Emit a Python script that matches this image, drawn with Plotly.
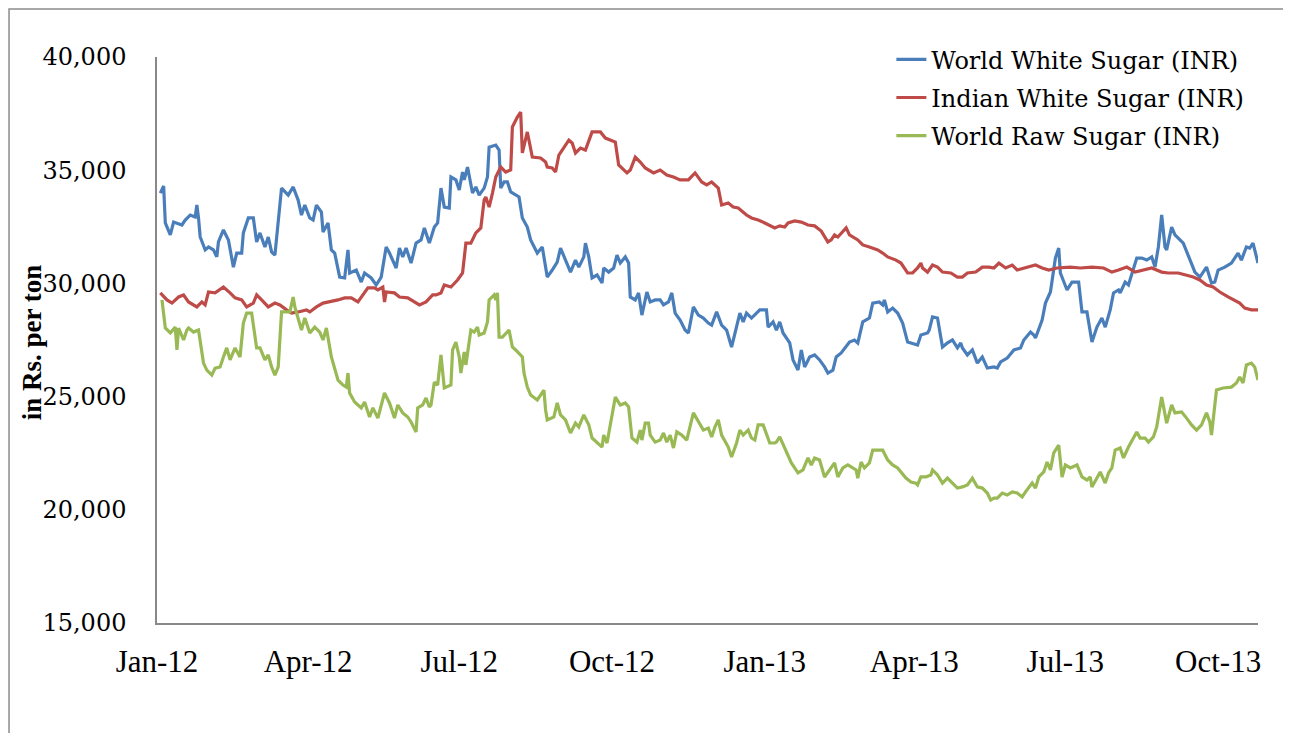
import pandas as pd
import plotly.graph_objects as go

# Days since 1 Jan 2012 and values (Rs. per ton)
white_day = [2, 4, 5, 8, 10, 15, 17, 20, 23, 24, 25, 26, 29, 31, 34, 36, 37, 40, 43, 46, 48, 51, 52, 55, 58, 60, 62, 65, 67, 69, 71,
             75, 79, 82, 85, 87, 89, 92, 94, 96, 99, 100, 103, 105, 107, 108, 110, 113, 115, 116, 120, 123, 125, 129, 132, 135, 138,
             140, 144, 146, 148, 150, 153, 156, 159, 161, 164, 167, 169, 171, 173, 176, 177, 180, 182, 184, 185, 187, 190, 192, 194,
             197, 199, 200, 204, 206, 207, 209, 211, 213, 218, 220, 223, 225, 229, 232, 234, 235, 238, 241, 243, 246, 249, 252, 254,
             257, 258, 260, 262, 265, 268, 269, 272, 275, 277, 279, 282, 284, 285, 288, 290, 292, 295, 297, 300, 303, 305, 308, 310,
             312, 315, 318, 320, 323, 326, 329, 332, 334, 337, 340, 343, 346, 349, 351, 353, 355, 358, 361, 363, 367, 368, 371, 373,
             375, 377, 381, 383, 386, 388, 390, 393, 396, 399, 402, 404, 407, 409, 412, 415, 417, 420, 422, 425, 429, 431, 435, 437,
             438, 440, 443, 446, 449, 452, 458, 460, 464, 465, 467, 470, 472, 473, 476, 479, 482, 484, 485, 488, 491, 494, 497, 500,
             504, 506, 508, 512, 516, 520, 522, 526, 528, 529, 533, 535, 538, 541, 543, 544, 548, 551, 555, 557, 560, 563, 566, 569,
             571, 574, 576, 579, 580, 583, 585, 587, 590, 593, 596, 599, 601, 603, 605, 607, 608, 611, 613, 618, 621, 625, 628, 632,
             635, 637, 639, 643, 647, 651, 653, 656, 658, 660, 663]
white_val = [33990, 34300, 32670, 32140, 32710, 32580, 32800, 33020, 32930, 33460, 32890, 32050, 31480, 31610, 31480, 31170, 31830,
             32360, 31920, 30720, 31340, 31340, 32230, 32890, 32890, 31830, 32230, 31610, 32050, 31390, 31250,
             34210, 33900, 34260, 33680, 33020, 33460, 32890, 32800, 33460, 33150, 32270, 32670, 31480, 31340, 31030, 30280, 30240,
             31480, 30460, 30590, 30060, 30460, 30240, 29930, 30280, 31610,
             31340, 30680, 31560, 31170, 31560, 30900, 31780, 31920, 32450, 31780, 32490, 32670, 34210, 33370, 33330, 34700, 34570,
             34130, 34920, 34570, 35140, 33990, 34260, 33900,
             34210, 34700, 36020, 36110, 35890, 34210, 34480, 34480, 34040, 33820, 32890, 32490, 31920, 31340, 31610, 30590, 30280,
             30590, 30940, 31560, 31030, 30500, 31030, 30720,
             31170, 31780, 31170, 30240, 30370, 30020, 30680, 30500, 30680, 31250, 30900, 31170, 30900, 29400, 29270, 29580, 28600,
             29620, 29180, 29270, 29270, 29050, 29180, 29580,
             28690, 28380, 27940, 27810, 28960, 28600, 28470, 28250, 28160, 28740, 28160, 27940, 27190, 28160, 28690, 28300, 28690,
             28470, 28690, 28830, 28830, 28070, 28300, 27940,
             28300, 27810, 27370, 26620, 26170, 27060, 26310, 26750, 26840, 26620, 26310, 26040, 26170, 26750, 26930, 27190, 27410,
             27500, 27370, 28300, 28470, 29130, 29180, 29050,
             29270, 28740, 28910, 28690, 28250, 27410, 27280, 27720, 27810, 27940, 28520, 28470, 27500, 27190, 27370, 27500, 27150,
             27370, 27150, 26840, 27060, 26480, 26750, 26260,
             26310, 26260, 26530, 26700, 27060, 27150, 27500, 27850, 27720, 27590, 28380, 29130, 29620, 31120, 31560, 30460, 29710,
             30060, 30060, 28740, 28740, 27410, 28070, 28470,
             28070, 28830, 29580, 29710, 29580, 30060, 29930, 30370, 31120, 31120, 31030, 31170, 30720, 31610, 33020, 31610, 31480,
             32490, 32140, 31780, 31250, 30500, 30280, 30720,
             30020, 30060, 30590, 30720, 30900, 31340, 31030, 31610, 31560, 31780, 30900]

indian_day = [2, 6, 9, 13, 16, 19, 24, 27, 29, 31, 35, 40, 44, 47, 51, 54, 58, 60, 63, 67, 71, 74, 78, 81, 85, 90, 92, 96, 100, 104,
              109, 113, 117, 121, 127, 131, 133, 136, 137, 138, 143, 146, 151, 158, 162, 166, 168, 171, 173, 177, 181, 184, 186, 189,
              192, 195, 197, 198, 200, 202, 204, 207, 210, 213, 214, 217, 219, 220, 223, 226, 231, 234, 235, 238, 240, 242, 245, 248,
              250, 252, 255, 258, 262, 267, 270, 273, 276, 278, 281, 283, 285, 288, 291, 294, 299, 303, 307, 311, 315, 320, 324, 328,
              331, 334, 338, 340, 344, 347, 350, 353, 355, 358, 362, 366, 369, 372, 375, 378, 380, 384, 388, 392, 396, 400, 404, 406,
              408, 410, 415, 417, 422, 425, 429, 434, 437, 440, 445, 448, 452, 455, 458, 460, 461, 464, 467, 470, 473, 478, 482, 485,
              488, 493, 497, 501, 504, 507, 511, 515, 518, 522, 529, 533, 537, 542, 550, 556, 563, 570, 575, 579, 584, 589, 595, 599,
              605, 609, 615, 620, 624, 628, 632, 636, 640, 645, 648, 652, 655, 659, 663]
indian_val = [29580, 29270, 29130, 29400, 29490, 29180, 28960, 29180, 29050, 29620, 29580, 29840, 29580, 29360, 29270, 28960, 29130,
              29490, 29270, 28960, 29130, 29050, 28830, 28690, 28740, 28830, 28740, 28960, 29130, 29180,
              29270, 29360, 29360, 29180, 29800, 29800, 29710, 29840, 29180, 29620, 29580, 29400, 29360, 29050, 29180, 29490, 29490,
              29580, 29930, 29840, 30150, 30460, 31780, 31780,
              32230, 32450, 33680, 33820, 33370, 33990, 34700, 35140, 34920, 35010, 36910, 37350, 37570, 35760, 36690, 35580, 35540,
              35360, 35140, 35100, 34920, 35670, 36020, 36330,
              36200, 35760, 35980, 35890, 36690, 36690, 36420, 36330, 36240, 35230, 35010, 34880, 35010, 35580, 35360, 35100, 34880,
              35010, 34790, 34700, 34570, 34570, 34880, 34480,
              34350, 34480, 34210, 33460, 33550, 33370, 33330, 33150, 33020, 32890, 32800, 32670, 32540, 32450, 32540, 32490, 32670,
              32760, 32710, 32580, 32540, 32310, 31830, 31920,
              32140, 32050, 32450, 32140, 31920, 31700, 31610, 31480, 31340, 31170, 31030, 30900, 30460, 30460, 30680, 30900, 30680,
              30500, 30810, 30720, 30500, 30460, 30280, 30280,
              30460, 30500, 30720, 30720, 30680, 30900, 30680, 30810, 30590, 30680, 30810, 30680, 30590, 30680, 30720, 30680, 30720,
              30680, 30500, 30590, 30720, 30500, 30590, 30680,
              30500, 30460, 30460, 30370, 30280, 30150, 29930, 29840, 29620, 29400, 29270, 29130, 28910, 28830, 28830]

raw_day = [3, 5, 8, 11, 12, 13, 16, 18, 19, 22, 25, 26, 28, 30, 33, 35, 38, 40, 42, 44, 47, 50, 52, 54, 57, 60, 62, 65, 67, 69, 71,
           73, 75, 80, 82, 83, 85, 87, 89, 92, 95, 98, 100, 102, 105, 107, 109, 112, 114, 115, 116, 119, 123, 125, 128, 130, 133, 137,
           140, 143, 145, 148, 151, 153, 156, 157, 160, 162, 164, 165, 167, 169, 171, 173, 177, 178, 180, 182, 183, 185, 186, 189,
           191, 193, 194, 197, 199, 200, 203, 204, 205, 206, 208, 212, 214, 216, 220, 221, 223, 225, 229, 233, 234, 235, 239, 241,
           243, 246, 249, 252, 254, 257, 260, 262, 265, 268, 269, 271, 276, 279, 282, 284, 286, 289, 291, 292, 294, 296, 297, 300,
           303, 305, 307, 309, 311, 313, 316, 319, 323, 326, 329, 332, 334, 336, 338, 340, 344, 346, 349, 351, 353, 356, 358, 360,
           362, 365, 367, 369, 372, 373, 375, 378, 382, 386, 389, 392, 394, 396, 399, 402, 405, 408, 410, 413, 416, 418, 421, 422,
           424, 426, 429, 431, 434, 437, 440, 443, 446, 448, 451, 454, 457, 458, 460, 463, 466, 467, 470, 473, 476, 479, 482, 485,
           488, 491, 494, 497, 500, 502, 504, 506, 509, 512, 515, 518, 521, 523, 527, 529, 531, 534, 536, 538, 540, 543, 545, 547,
           550, 554, 557, 560, 562, 563, 566, 568, 571, 573, 575, 577, 580, 582, 585, 590, 592, 595, 597, 600, 602, 605, 608, 611,
           613, 617, 620, 623, 626, 629, 632, 634, 635, 638, 642, 647, 650, 652, 654, 656, 659, 661, 663]
raw_val = [29270, 28030, 27810, 28070, 27060, 28030, 27500, 27940, 28030, 27850, 27940, 27500, 26480, 26170, 25950, 26260, 26310,
           26750, 27150, 26620, 27150, 26750, 28250, 28690, 28690, 27150, 27150, 26620, 26840, 26310, 25950,
           26310, 28740, 28740, 29400, 28960, 28380, 27940, 28470, 27810, 28070, 27850, 27500, 28030, 26750, 26170, 25730, 25510,
           25420, 26040, 25160, 24760, 24500, 24760, 24100, 24500, 24050, 25160,
           24720, 24050, 24630, 24280, 24100, 23880, 23440, 24500, 24630, 24940, 24540, 24630, 25640, 25510, 26840, 25380, 25510,
           27060, 27410, 26750, 26040, 26970, 26400, 27940,
           27850, 28070, 27720, 27810, 28300, 29270, 29490, 29270, 29580, 27630, 27630, 27940, 27190, 27060, 26750, 26040, 25420,
           25070, 24850, 25290, 24410, 23970, 24100, 24720,
           24190, 23970, 23390, 23830, 23660, 24190, 23750, 23170, 22990, 22770, 23300, 22950, 24980, 24630, 24720, 24540, 23170,
           22990, 23520, 23080, 23830, 23830, 23300, 22990,
           23080, 23390, 22990, 23300, 22730, 23440, 23300, 23080, 24280, 23880, 23520, 23610, 23220, 23660, 23970, 23300, 22770,
           22330, 22950, 23520, 23300, 23520, 23170, 23080,
           23750, 23750, 23390, 22950, 22950, 22990, 23220, 22730, 22070, 21630, 21760, 22290, 21980, 22290, 22200, 21450, 21760,
           22070, 21450, 21850, 21980, 21890, 21760, 21400,
           22110, 21850, 22070, 22640, 22640, 22640, 22200, 21980, 21850, 21670, 21400, 21230, 21180, 21100, 21450, 21450, 21540,
           21760, 21540, 21180, 21400, 21180, 20960, 21010,
           21100, 21400, 21010, 20960, 20740, 20430, 20520, 20520, 20740, 20650, 20790, 20740, 20570, 20790, 21180, 20960, 21450,
           21670, 22110, 21760, 22510, 22860, 21450, 21980,
           21850, 21980, 21450, 21320, 21450, 21010, 21450, 21670, 21180, 21630, 21850, 22640, 22730, 22290, 22770, 23440, 23170,
           23170, 22990, 23220, 23660, 24980, 23830, 24630,
           24280, 24320, 24050, 23750, 23520, 23750, 24280, 23880, 23300, 25290, 25380, 25420, 25600, 25870, 25600, 26400, 26480,
           26310, 25730]

series_names = ["World White Sugar (INR)", "Indian White Sugar (INR)", "World Raw Sugar (INR)"]
series_colors = ["#4A7EBB", "#BE4B48", "#98B954"]
tick_dates = ["2012-01-01", "2012-04-01", "2012-07-01", "2012-10-01",
              "2013-01-01", "2013-04-01", "2013-07-01", "2013-10-01"]
y_ticks = [15000, 20000, 25000, 30000, 35000, 40000]

start = pd.Timestamp("2012-01-01")


def to_dates(days):
    return [start + pd.Timedelta(days=d) for d in days]


FONT = "DejaVu Serif"

fig = go.Figure()
for i, (days, vals) in enumerate([(white_day, white_val), (indian_day, indian_val), (raw_day, raw_val)]):
    fig.add_trace(go.Scatter(
        x=to_dates(days), y=vals, mode="lines", name=series_names[i],
        line=dict(color=series_colors[i], width=3.2), legendgroup=str(i),
    ))

# page body has an 8px default margin, so the figure is sized/offset to compensate
fig.update_layout(
    width=1283, height=725,
    margin=dict(l=149, r=33, t=49, b=110),
    paper_bgcolor="white", plot_bgcolor="white",
    font=dict(family=FONT, color="black"),
    showlegend=True,
    legend=dict(
        x=0.667, y=1.035, xanchor="left", yanchor="top",
        font=dict(family=FONT, size=24, color="black"),
        bgcolor="rgba(0,0,0,0)", traceorder="grouped", tracegroupgap=4,
    ),
    xaxis=dict(
        type="date", range=["2012-01-01", "2013-10-25"],
        tickvals=tick_dates, tickformat="%b-%y",
        showgrid=False, zeroline=False, showline=True, linecolor="#898989", linewidth=1.5,
        ticks="", tickfont=dict(family="Liberation Serif", size=31, color="black"),
        ticklabelstandoff=10,
    ),
    yaxis=dict(
        range=[15000, 40000], tickvals=y_ticks, tickformat=",",
        showgrid=False, zeroline=False, showline=True, linecolor="#898989", linewidth=1.5,
        ticks="", tickfont=dict(family=FONT, size=24, color="black"),
        ticklabelstandoff=24,
    ),
    annotations=[dict(
        text="<b>in Rs. per ton</b>", textangle=-90, showarrow=False,
        xref="paper", yref="paper", x=-0.1135, y=0.496, xanchor="center", yanchor="middle",
        font=dict(family="Liberation Serif", size=27, color="black"),
    )],
    shapes=[dict(
        type="rect", xref="paper", yref="paper", x0=-0.1344, x1=1.05, y0=-0.25, y1=1.0848,
        line=dict(color="#8c8c8c", width=1.5), fillcolor="rgba(0,0,0,0)", layer="below",
    )],
)

fig.write_html("out.html")
